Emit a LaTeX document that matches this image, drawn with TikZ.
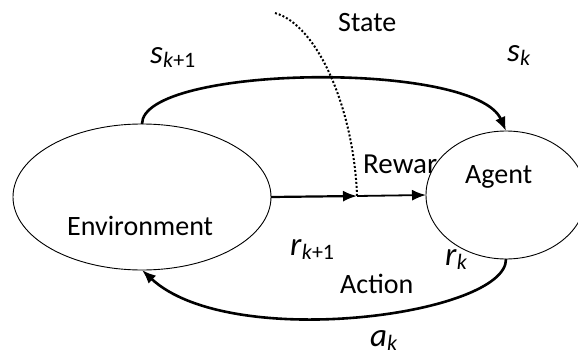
\documentclass[tikz,border=0pt]{standalone}
\usepackage{fontspec}
\setmainfont{Carlito}
\usetikzlibrary{shapes.geometric,arrows.meta}
\newcommand{\symb}[2]{\textit{#1}\raisebox{-4pt}{\fontsize{22}{22}\selectfont #2}}
\tikzset{
  blob/.style={shape=ellipse,draw=black,line width=0.9pt,fill=white,inner sep=0pt,outer sep=0pt},
  word/.style={anchor=base west,inner sep=0pt,font=\fontsize{28}{32}\selectfont},
  symlabel/.style={anchor=base west,inner sep=0pt,font=\fontsize{33}{36}\selectfont},
  flow/.style={line width=2.6pt,-{Latex[length=14pt,width=11pt]}}
}
\begin{document}
\begin{tikzpicture}[x=1pt,y=-1pt]
  \useasboundingbox (0,0) rectangle (578,356);
  \node[blob,minimum width=258pt,minimum height=146pt] (env) at (142,197) {};
  \node[word] (envtext) at (67,235) {Environment};
  \node[word,font=\fontsize{29}{32}\selectfont] (reward) at (363,173) {Reward};
  \node[blob,minimum width=160pt,minimum height=128pt] (agent) at (506,195) {};
  \node[word] (agenttext) at (465,183) {Agent};
  \node[word] (state) at (338,31) {State};
  \node[word] (action) at (340,293) {Action};
  \node[symlabel] (snext) at (150,63) {\symb{s}{\textit{k}+1}};
  \node[symlabel] (scur) at (507,61) {\symb{s}{\textit{k}}};
  \node[symlabel] (rnext) at (290,255) {\symb{r}{\textit{k}+1}};
  \node[symlabel] (rcur) at (445,265) {\symb{r}{\textit{k}}};
  \node[symlabel] (acur) at (370,346) {\symb{a}{\textit{k}}};
  \coordinate (meet) at (357,196);
  \coordinate (dotstart) at (275,13);

  \draw[flow] (env.north) .. controls (142,65) and (475,60) .. (agent.north);
  \draw[flow] (agent.south) .. controls (507,315) and (230,352) .. (env.south);
  \draw[flow,line width=2.2pt] (env.east) -- (meet);
  \draw[flow,line width=1.8pt] (meet) -- (agent.west);
  \draw[line width=2pt,dash pattern=on 2pt off 2pt] (dotstart) .. controls (318,25) and (354,110) .. (meet);

\end{tikzpicture}
\end{document}
